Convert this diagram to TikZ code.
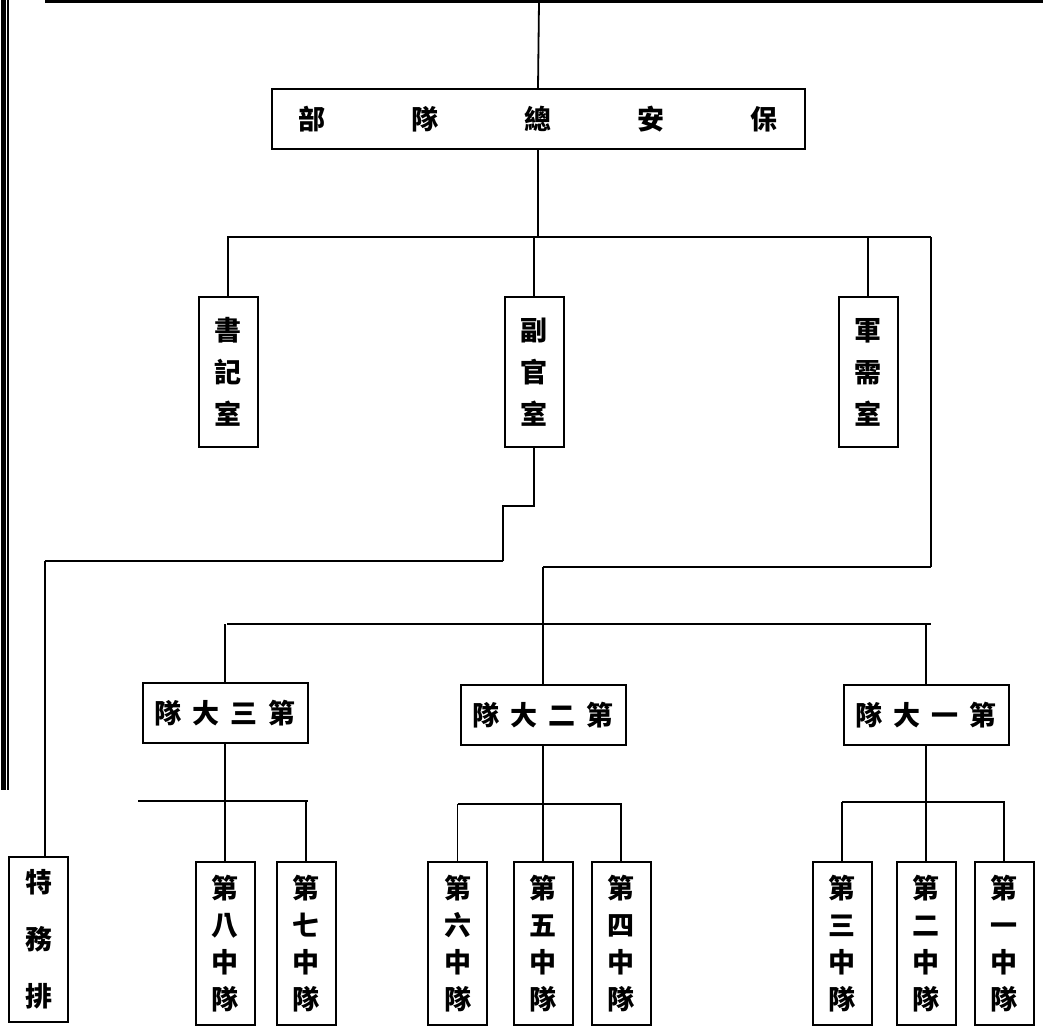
\documentclass[tikz,border=0pt]{standalone}
\usepackage{fontspec}
\newfontfamily\cjk{Noto Sans CJK TC}
\begin{document}
\begin{tikzpicture}[x=1pt,y=-1pt,
  ln/.style={line width=1.8pt},
  bar/.style={line width=2.6pt},
  boxv/.style={draw, line width=2pt, minimum width=59pt, inner sep=0pt, align=center,
     font=\cjk\bfseries\fontsize{27}{42}\selectfont},
  boxc/.style={boxv, minimum height=163pt, font=\cjk\bfseries\fontsize{27}{37}\selectfont},
  boxh/.style={draw, line width=2pt, minimum width=165pt, minimum height=60pt, inner sep=0pt,
     font=\cjk\bfseries\fontsize{27}{30}\selectfont}]
\useasboundingbox (0,0) rectangle (1043,1035);
% frame
\draw[line width=5pt] (3,0) -- (3,790);
\draw[line width=1.2pt] (8,0) -- (8,790);
\coordinate (tl) at (45,1.5);
\coordinate (tr) at (1043,1.5);
\draw[line width=2.6pt] (tl) -- (tr);
\coordinate (tm) at (539,1.5);
% HQ
\node[draw, line width=2pt, minimum width=533pt, minimum height=60pt, inner sep=0pt,
  font=\cjk\bfseries\fontsize{27}{30}\selectfont] (hq) at (538,119)
  {部\hspace{86pt}隊\hspace{86pt}總\hspace{86pt}安\hspace{86pt}保};
\draw[ln] (tm) -- (hq.north);
% level 1
\node[boxv, minimum height=150pt] (shu) at (228,372) {書\\記\\室};
\node[boxv, minimum height=150pt] (fu)  at (534,372) {副\\官\\室};
\node[boxv, minimum height=150pt] (jun) at (868,372) {軍\\需\\室};
\coordinate (b1l) at (227,237);
\coordinate (b1r) at (931,237);
\draw[ln] (hq.south) -- (hq.south |- b1l);
\draw[bar] (b1l) -- (b1r);
\draw[ln] (shu.north |- b1l) -- (shu.north);
\draw[ln] (fu.north |- b1l) -- (fu.north);
\draw[ln] (jun.north |- b1l) -- (jun.north);
% special platoon
\node[boxv, minimum height=165pt, font=\cjk\bfseries\fontsize{27}{57}\selectfont] (te) at (38.5,939.5) {特\\務\\排};
\coordinate (f1) at (534,506);
\coordinate (f2) at (503,506);
\coordinate (f3) at (503,561);
\coordinate (f4) at (45,561);
\draw[ln] (fu.south) -- (f1) -- (f2) -- (f3);
\draw[bar] (f3) -- (f4);
\draw[ln] (f4) -- (f4 |- te.north);
% battalions
\node[boxh] (d3) at (225,713) {隊\hspace{11pt}大\hspace{11pt}三\hspace{11pt}第};
\node[boxh] (d2) at (543,715) {隊\hspace{11pt}大\hspace{11pt}二\hspace{11pt}第};
\node[boxh] (d1) at (926,715) {隊\hspace{11pt}大\hspace{11pt}一\hspace{11pt}第};
\coordinate (r1) at (931,567);
\coordinate (r2) at (543,567);
\coordinate (b2l) at (227,624);
\coordinate (b2r) at (931,624);
\draw[ln] (b1r) -- (r1);
\draw[bar] (r1) -- (r2);
\draw[ln] (r2) -- (r2 |- b2l);
\draw[bar] (b2l) -- (b2r);
\draw[ln] (d3.north |- b2l) -- (d3.north);
\draw[ln] (d2.north |- b2l) -- (d2.north);
\draw[ln] (d1.north |- b2l) -- (d1.north);
% companies
\node[boxc] (c8) at (225,943.5) {第\\八\\中\\隊};
\node[boxc] (c7) at (306,943.5) {第\\七\\中\\隊};
\node[boxc] (c6) at (457.5,943.5) {第\\六\\中\\隊};
\node[boxc] (c5) at (543,943.5) {第\\五\\中\\隊};
\node[boxc] (c4) at (621,943.5) {第\\四\\中\\隊};
\node[boxc] (c3) at (842,943.5) {第\\三\\中\\隊};
\node[boxc] (c2) at (926,943.5) {第\\二\\中\\隊};
\node[boxc] (c1) at (1004,943.5) {第\\一\\中\\隊};
% sub bars
\coordinate (s3l) at (138,801);
\coordinate (s3r) at (308,801);
\draw[ln] (d3.south) -- (d3.south |- s3l);
\draw[bar] (s3l) -- (s3r);
\draw[ln] (c8.north |- s3l) -- (c8.north);
\draw[ln] (c7.north |- s3l) -- (c7.north);
\coordinate (s2l) at (457.5,804);
\coordinate (s2r) at (622,804);
\draw[ln] (d2.south) -- (d2.south |- s2l);
\draw[bar] (s2l) -- (s2r);
\draw[ln] (c6.north |- s2l) -- (c6.north);
\draw[ln] (c5.north |- s2l) -- (c5.north);
\draw[ln] (c4.north |- s2l) -- (c4.north);
\coordinate (s1l) at (842,802);
\coordinate (s1r) at (1005,802);
\draw[ln] (d1.south) -- (d1.south |- s1l);
\draw[bar] (s1l) -- (s1r);
\draw[ln] (c3.north |- s1l) -- (c3.north);
\draw[ln] (c2.north |- s1l) -- (c2.north);
\draw[ln] (c1.north |- s1l) -- (c1.north);
\end{tikzpicture}
\end{document}
